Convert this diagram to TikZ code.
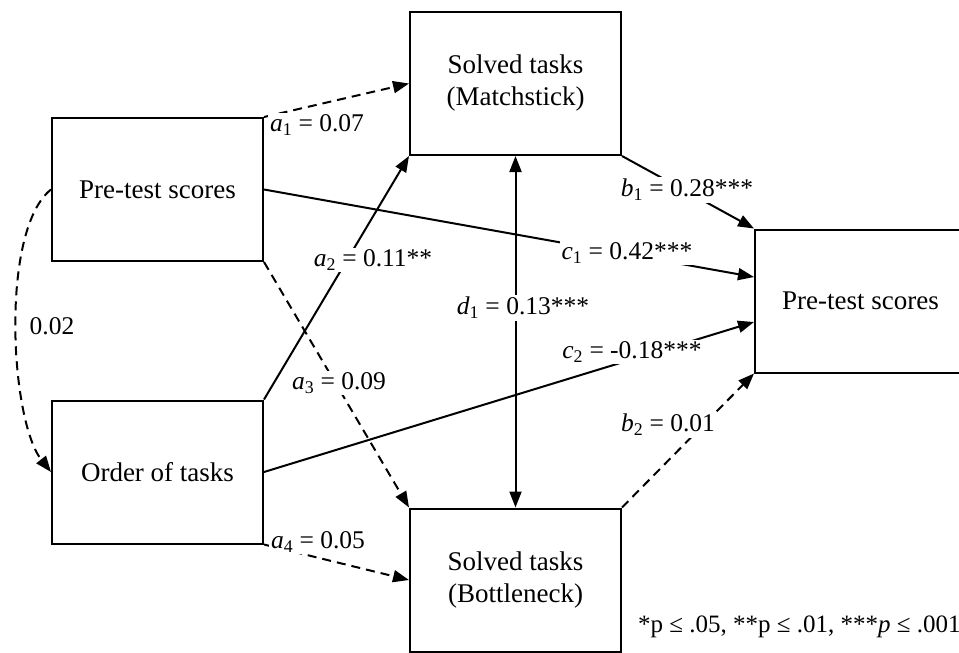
\documentclass[tikz,border=0pt]{standalone}
\usepackage{fontspec}
\setmainfont{Liberation Serif}
\usetikzlibrary{arrows.meta}
\tikzset{
  box/.style={draw, line width=2pt, minimum width=211pt, minimum height=143pt, inner sep=0pt, align=center, font=\fontsize{27}{32}\selectfont},
  conn/.style={line width=2pt, -{Triangle[length=16pt,width=12pt]}},
  dconn/.style={conn, dash pattern=on 9pt off 6pt},
  lbl/.style={fill=white, inner sep=2pt, font=\fontsize{25.5}{30}\selectfont},
}
\begin{document}
\begin{tikzpicture}[x=1pt,y=-1pt]
\useasboundingbox (0,0) rectangle (959,653);
\clip (0,0) rectangle (959,653);
\node[box] (A) at (157.5,189.5) {Pre-test scores};
\node[box] (O) at (157.5,472) {Order of tasks};
\node[box] (M) at (515.5,83.5) {Solved tasks\\(Matchstick)};
\node[box] (B) at (515.5,580) {Solved tasks\\(Bottleneck)};
\node[box] (R) at (860.5,301) {Pre-test scores};

\draw[dconn] (A.north east) -- (M.west);
\draw[conn] (A.east) -- ([yshift=24pt]R.west);
\draw[conn] (O.north east) -- (M.south west);
\draw[dconn] (A.south east) -- (B.north west);
\draw[conn] (O.east) -- ([yshift=-21pt]R.west);
\draw[dconn] (O.south east) -- (B.west);
\draw[conn] (M.south east) -- (R.north west);
\draw[dconn] (B.north east) -- (R.south west);
\draw[conn, {Triangle[length=16pt,width=12pt]}-{Triangle[length=16pt,width=12pt]}] (M.south) -- (B.north);
\draw[dconn] (A.west) .. controls (0,230) and (10,420) .. (O.west);

\node[lbl] (la1) at (317,125) {\textit{a}\textsubscript{1} = 0.07};
\node[lbl] (la2) at (373,260) {\textit{a}\textsubscript{2} = 0.11**};
\node[lbl] (la3) at (339,383) {\textit{a}\textsubscript{3} = 0.09};
\node[lbl] (la4) at (318,542) {\textit{a}\textsubscript{4} = 0.05};
\node[lbl] (lb1) at (687,190) {\textit{b}\textsubscript{1} = 0.28***};
\node[lbl] (lb2) at (668,425) {\textit{b}\textsubscript{2} = 0.01};
\node[lbl] (lc1) at (627,253) {\textit{c}\textsubscript{1} = 0.42***};
\node[lbl] (lc2) at (632,352) {\textit{c}\textsubscript{2} = -0.18***};
\node[lbl] (ld1) at (523,308) {\textit{d}\textsubscript{1} = 0.13***};
\node[lbl, fill=none] (l02) at (52,326) {0.02};
\node[lbl, fill=none, anchor=west, inner sep=0pt, font=\fontsize{25}{30}\selectfont] (note) at (638,627) {*p ≤ .05, **p ≤ .01, ***\textit{p} ≤ .001};
\end{tikzpicture}
\end{document}
